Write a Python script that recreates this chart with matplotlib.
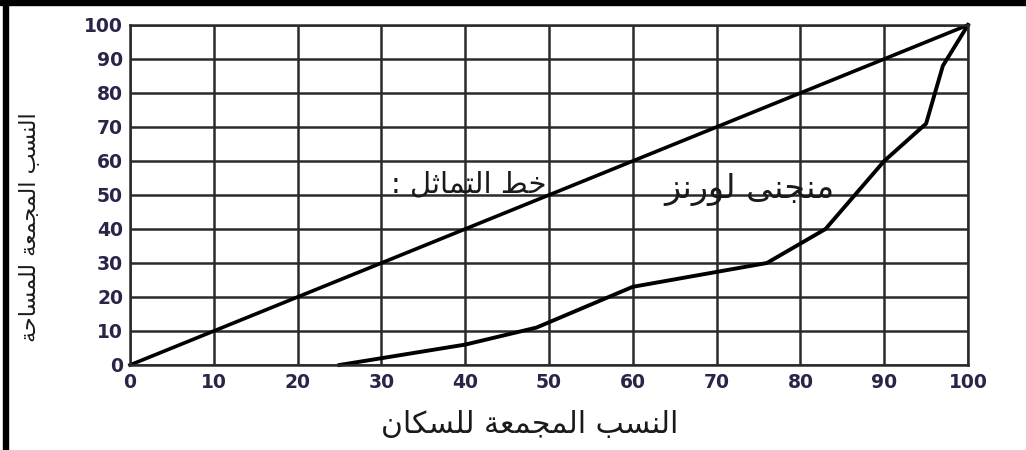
import matplotlib
matplotlib.use('Agg')
import matplotlib.pyplot as plt
from matplotlib.patches import Rectangle

plt.rcParams['font.family'] = ['DejaVu Sans']

# Lorenz curve data (cumulative %)
pop_cum = [25, 30, 40, 48.5, 60, 76, 83, 90, 95, 97, 100]
area_cum = [0, 2, 6, 11, 23, 30, 40, 60, 71, 88, 100]
equal_x = [0, 100]
equal_y = [0, 100]
ticks = list(range(0, 101, 10))

x_title = 'النسب المجمعة للسكان'
y_title = 'النسب المجمعة للمساحة'
equal_label = 'خط التماثل :'
lorenz_label = 'منجنى لورنز'

# matplotlib does no arabic shaping, so pick presentation forms by hand
# (iso, fin, ini, med) for dual joining letters, (iso, fin) for the rest
FORMS = {
    'ا': ('\uFE8D', '\uFE8E'),
    'ب': ('\uFE8F', '\uFE90', '\uFE91', '\uFE92'),
    'ة': ('\uFE93', '\uFE94'),
    'ت': ('\uFE95', '\uFE96', '\uFE97', '\uFE98'),
    'ث': ('\uFE99', '\uFE9A', '\uFE9B', '\uFE9C'),
    'ج': ('\uFE9D', '\uFE9E', '\uFE9F', '\uFEA0'),
    'ح': ('\uFEA1', '\uFEA2', '\uFEA3', '\uFEA4'),
    'خ': ('\uFEA5', '\uFEA6', '\uFEA7', '\uFEA8'),
    'ر': ('\uFEAD', '\uFEAE'),
    'ز': ('\uFEAF', '\uFEB0'),
    'س': ('\uFEB1', '\uFEB2', '\uFEB3', '\uFEB4'),
    'ط': ('\uFEC1', '\uFEC2', '\uFEC3', '\uFEC4'),
    'ع': ('\uFEC9', '\uFECA', '\uFECB', '\uFECC'),
    'ك': ('\uFED9', '\uFEDA', '\uFEDB', '\uFEDC'),
    'ل': ('\uFEDD', '\uFEDE', '\uFEDF', '\uFEE0'),
    'م': ('\uFEE1', '\uFEE2', '\uFEE3', '\uFEE4'),
    'ن': ('\uFEE5', '\uFEE6', '\uFEE7', '\uFEE8'),
    'و': ('\uFEED', '\uFEEE'),
    'ى': ('\uFEEF', '\uFEF0'),
}

def ar(text):
    out = []
    for i, c in enumerate(text):
        if c not in FORMS:
            out.append(c)
            continue
        f = FORMS[c]
        prev = text[i - 1] if i > 0 else ''
        nxt = text[i + 1] if i + 1 < len(text) else ''
        join_prev = prev in FORMS and len(FORMS[prev]) == 4
        join_next = nxt in FORMS and len(f) == 4
        if join_prev and join_next:
            out.append(f[3])
        elif join_prev:
            out.append(f[1])
        elif join_next:
            out.append(f[2])
        else:
            out.append(f[0])
    return ''.join(reversed(out))

fig = plt.figure(figsize=(10.26, 4.5), dpi=100)
ax = fig.add_axes([130 / 1026, 1 - 365 / 450, 838 / 1026, 340 / 450])

ax.plot(equal_x, equal_y, color='black', linewidth=2.6, clip_on=False)
ax.plot(pop_cum, area_cum, color='black', linewidth=2.8, clip_on=False)

ax.set_xlim(0, 100)
ax.set_ylim(0, 100)
ax.set_xticks(ticks)
ax.set_yticks(ticks)
ax.grid(color='#2a2a2a', linewidth=1.8)
ax.set_axisbelow(True)
ax.tick_params(length=0, labelsize=13.5, labelcolor='#2b2448')
ax.tick_params(axis='x', pad=6)
ax.tick_params(axis='y', pad=5)
for lab in ax.get_xticklabels() + ax.get_yticklabels():
    lab.set_fontweight('bold')
for s in ax.spines.values():
    s.set_color('#2a2a2a')
    s.set_linewidth(1.8)

ax.text(40.4, 53, ar(equal_label), ha='center', va='center', fontsize=21,
        color='#1a1a1a')
ax.text(73.9, 51.5, ar(lorenz_label), ha='center', va='center', fontsize=24,
        color='#1a1a1a')

fig.text(530 / 1026, 1 - 425 / 450, ar(x_title), ha='center', va='center',
         fontsize=21.5, color='#1a1a1a')
fig.text(29 / 1026, 1 - 227 / 450, ar(y_title), ha='center', va='center',
         rotation=90, fontsize=16, color='#1a1a1a')

# thick frame on the left and top of the picture
fig.patches.append(Rectangle((3 / 1026, 0), 5 / 1026, 1, transform=fig.transFigure,
                             color='black', zorder=10))
fig.patches.append(Rectangle((0, 1 - 5 / 450), 1, 5 / 450, transform=fig.transFigure,
                             color='black', zorder=10))

fig.savefig('out.png', dpi=100)
